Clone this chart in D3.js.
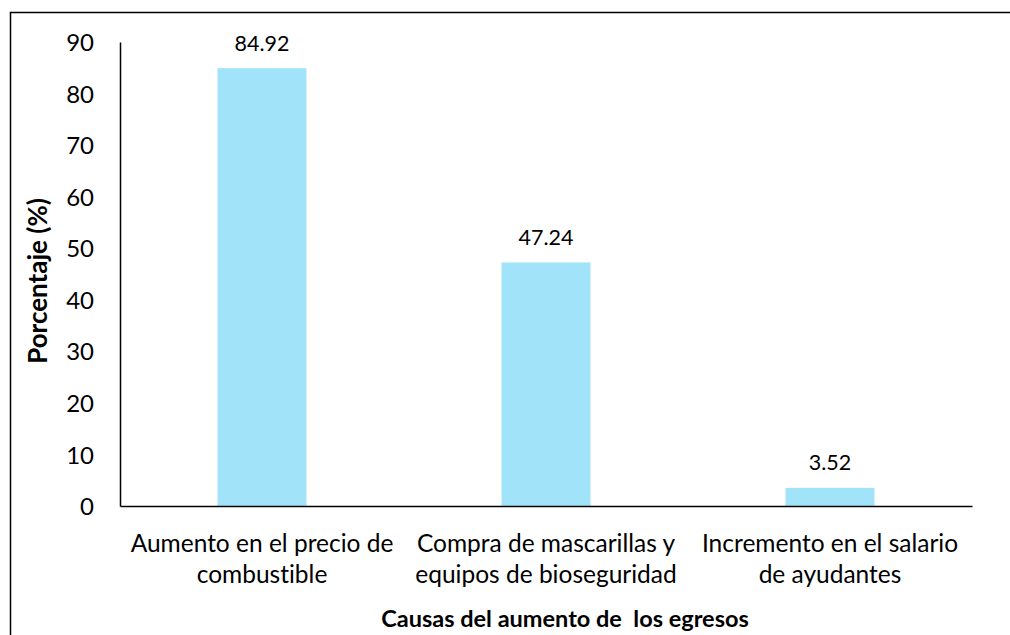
<!DOCTYPE html>
<html><head><meta charset="utf-8">
<script src="https://cdn.jsdelivr.net/npm/d3@7"></script>
<style>html,body{margin:0;padding:0;background:#fff;}svg{display:block;font-family:Lato, "Open Sans", sans-serif;font-variant-ligatures:none;font-feature-settings:"liga" 0, "dlig" 0;}</style>
</head><body>
<svg id="c" width="1010" height="635"></svg>
<script>
const categories = [
  ["Aumento en el precio de", "combustible"],
  ["Compra de mascarillas y", "equipos de bioseguridad"],
  ["Incremento en el salario", "de ayudantes"]
];
const values = [84.92, 47.24, 3.52];
const yTicks = [0, 10, 20, 30, 40, 50, 60, 70, 80, 90];
const yTitle = "Porcentaje (%)";
const xTitle = "Causas del aumento de  los egresos";

const svg = d3.select("#c");
svg.append("rect").attr("x", 10.5).attr("y", 12.5).attr("width", 1010).attr("height", 640)
  .attr("fill", "none").attr("stroke", "#000").attr("stroke-width", 1.5);

const pL = 120, pR = 972, pT = 42, pB = 506;
const x = d3.scaleBand().domain(d3.range(categories.length)).range([pL, pR]).paddingInner(0.687).paddingOuter(0.3435);
const y = d3.scaleLinear().domain([0, 90]).range([pB, pT]);

svg.selectAll("rect.bar").data(values).join("rect").attr("class", "bar")
  .attr("x", (d, i) => x(i)).attr("width", x.bandwidth())
  .attr("y", d => y(d)).attr("height", d => y(0) - y(d))
  .attr("fill", "#a1e3f8");

const yAxis = svg.append("g").attr("transform", `translate(${pL},0)`)
  .call(d3.axisLeft(y).tickValues(yTicks).tickSize(0).tickPadding(26).tickFormat(d3.format("d")));
yAxis.select(".domain").attr("stroke", "#000").attr("stroke-width", 1.5);
yAxis.selectAll("text").attr("font-size", 24).attr("fill", "#000").attr("font-family", "Lato").attr("dy", "0.36em");

const xAxis = svg.append("g").attr("transform", `translate(0,${pB})`)
  .call(d3.axisBottom(x).tickSize(0).tickFormat(""));
xAxis.select(".domain").attr("stroke", "#000").attr("stroke-width", 1.5);
xAxis.selectAll(".tick").each(function(d, i) {
  const t = d3.select(this).select("text").attr("font-size", 24.5).attr("fill", "#000")
    .attr("font-family", "Lato").attr("y", 0).attr("dy", null);
  categories[i].forEach((ln, k) => {
    t.append("tspan").attr("x", 0).attr("y", 46 + k * 31).text(ln);
  });
});

svg.selectAll("text.val").data(values).join("text").attr("class", "val")
  .attr("x", (d, i) => x(i) + x.bandwidth() / 2).attr("y", d => y(d) - 17.5)
  .attr("text-anchor", "middle").attr("font-size", 21.5).attr("fill", "#000")
  .text(d => d3.format(".2f")(d));

svg.append("text").attr("transform", "translate(47,281) rotate(-90)")
  .attr("text-anchor", "middle").attr("font-size", 26).attr("font-weight", "bold").text(yTitle);
svg.append("text").attr("x", 565).attr("y", 627).attr("text-anchor", "middle")
  .attr("font-size", 23.5).attr("font-weight", "bold").style("white-space", "pre").text(xTitle);
</script>
</body></html>
